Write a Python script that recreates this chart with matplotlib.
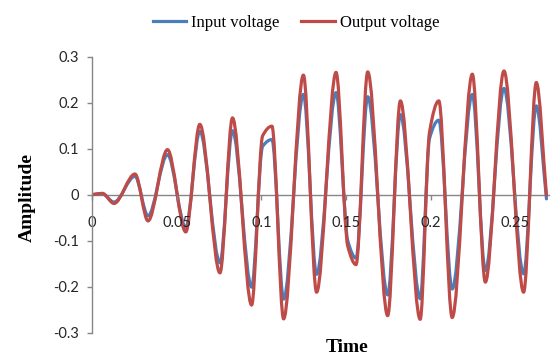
import numpy as np
import matplotlib
matplotlib.use("Agg")
import matplotlib.pyplot as plt
from matplotlib.path import Path
from matplotlib.patches import PathPatch
from matplotlib.lines import Line2D

# ---- data ----
time = [0.0, 0.0061, 0.0130, 0.0254, 0.0331, 0.0446, 0.0554, 0.0637, 0.0756,
        0.0830, 0.0943, 0.1008, 0.1063, 0.1132, 0.1249, 0.1327, 0.1442, 0.1511,
        0.1560, 0.1629, 0.1747, 0.1822, 0.1939, 0.1994, 0.2049, 0.2128, 0.2247,
        0.2324, 0.2434, 0.2550, 0.2625, 0.2685]
input_voltage = [0.0, 0.002, -0.016, 0.040, -0.046, 0.087, -0.071, 0.138, -0.148,
                 0.139, -0.201, 0.105, 0.120, -0.227, 0.218, -0.173, 0.222, -0.100,
                 -0.138, 0.213, -0.218, 0.174, -0.226, 0.122, 0.162, -0.205, 0.218,
                 -0.165, 0.231, -0.172, 0.193, -0.009]
output_voltage = [0.0, 0.003, -0.019, 0.045, -0.057, 0.098, -0.081, 0.153, -0.170,
                  0.167, -0.240, 0.128, 0.149, -0.270, 0.260, -0.212, 0.266, -0.112,
                  -0.152, 0.267, -0.263, 0.204, -0.271, 0.136, 0.204, -0.267, 0.262,
                  -0.190, 0.269, -0.212, 0.244, -0.001]
series_names = ["Input voltage", "Output voltage"]
xtick_values = [0, 0.05, 0.1, 0.15, 0.2, 0.25]
xtick_labels = ["0", "0.05", "0.1", "0.15", "0.2", "0.25"]
ytick_values = [-0.3, -0.2, -0.1, 0, 0.1, 0.2, 0.3]
ytick_labels = ["-0.3", "-0.2", "-0.1", "0", "0.1", "0.2", "0.3"]

BLUE = "#4A7EBB"
RED = "#BE4B48"
AXIS = "#868686"
TXT = "#262626"


def smooth_path(x, y):
    """Smoothed line (like a spreadsheet 'smoothed line') as cubic Bezier path
    through the data points, using monotone cubic tangents."""
    x = np.asarray(x, float)
    y = np.asarray(y, float)
    h = np.diff(x)
    d = np.diff(y) / h
    m = np.zeros_like(y)
    m[0], m[-1] = d[0], d[-1]
    for i in range(1, len(y) - 1):
        if d[i - 1] * d[i] > 0:
            w1 = 2 * h[i] + h[i - 1]
            w2 = h[i] + 2 * h[i - 1]
            m[i] = (w1 + w2) / (w1 / d[i - 1] + w2 / d[i])
    verts = [(x[0], y[0])]
    codes = [Path.MOVETO]
    for i in range(len(x) - 1):
        verts += [(x[i] + h[i] / 3, y[i] + m[i] * h[i] / 3),
                  (x[i + 1] - h[i] / 3, y[i + 1] - m[i + 1] * h[i] / 3),
                  (x[i + 1], y[i + 1])]
        codes += [Path.CURVE4] * 3
    return Path(verts, codes)


fig = plt.figure(figsize=(5.54, 3.56), dpi=100)
ax = fig.add_axes([92 / 554, 1 - 332.7 / 356, (549 - 92) / 554, (332.7 - 56.7) / 356])

for yv, col in [(input_voltage, BLUE), (output_voltage, RED)]:
    patch = PathPatch(smooth_path(time, yv), fill=False, edgecolor=col, lw=2.3,
                      capstyle="round", joinstyle="round")
    ax.add_patch(patch)

ax.set_xlim(0, 0.27)
ax.set_ylim(-0.3, 0.3)

for s in ["top", "right"]:
    ax.spines[s].set_visible(False)
ax.spines["left"].set_color(AXIS)
ax.spines["left"].set_linewidth(1.0)
ax.spines["bottom"].set_position(("data", 0))
ax.spines["bottom"].set_color(AXIS)
ax.spines["bottom"].set_linewidth(1.0)
ax.spines["bottom"].set_zorder(0.5)

ax.set_xticks(xtick_values)
ax.set_xticklabels(xtick_labels)
ax.set_yticks(ytick_values)
ax.set_yticklabels(ytick_labels)
ax.tick_params(axis="x", direction="out", length=3.5, width=1.0, color=AXIS,
               pad=12, labelsize=10.5, labelcolor=TXT)
ax.tick_params(axis="y", direction="out", length=3.5, width=1.0, color=AXIS,
               pad=6, labelsize=10.5, labelcolor=TXT)
for lab in ax.get_xticklabels() + ax.get_yticklabels():
    lab.set_family(["Lato", "DejaVu Sans"])

fig.text(27 / 554, 1 - 197 / 356, "Amplitude", rotation=90, ha="center", va="center",
         family="Liberation Serif", weight="bold", fontsize=14, color="black")
fig.text(347 / 554, 1 - 348 / 356, "Time", ha="center", va="center",
         family="Liberation Serif", weight="bold", fontsize=14, color="black")

handles = [Line2D([], [], color=BLUE, lw=2.3), Line2D([], [], color=RED, lw=2.3)]
fig.legend(handles, series_names, loc="center", bbox_to_anchor=(296 / 554, 1 - 23 / 356),
           ncol=2, frameon=False, handlelength=2.0, handletextpad=0.3,
           columnspacing=1.3, prop={"family": "Liberation Serif", "size": 12})

fig.savefig("out.png", dpi=100)
